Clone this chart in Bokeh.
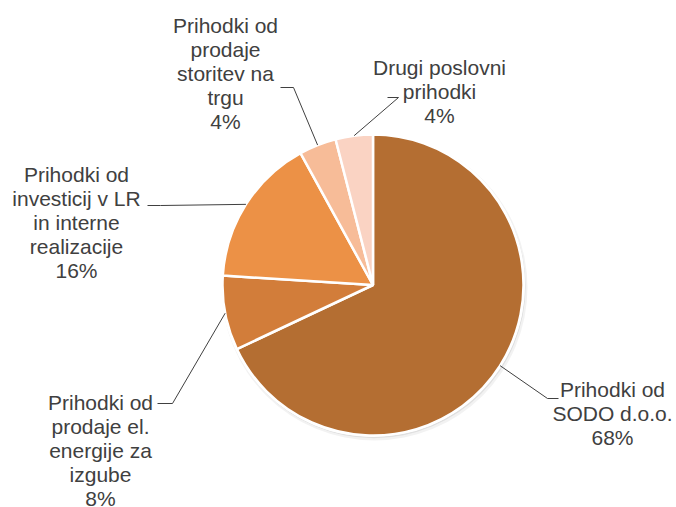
import math
from bokeh.plotting import figure
from bokeh.models import Range1d, ColumnDataSource
from bokeh.core.properties import value
from bokeh.embed import file_html
from bokeh.resources import INLINE

# ---- data ----
categories = [
    "Prihodki od SODO d.o.o.",
    "Prihodki od prodaje el. energije za izgube",
    "Prihodki od investicij v LR in interne realizacije",
    "Prihodki od prodaje storitev na trgu",
    "Drugi poslovni prihodki",
]
label_lines = [
    "Prihodki od\nSODO d.o.o.",
    "Prihodki od\nprodaje el.\nenergije za\nizgube",
    "Prihodki od\ninvesticij v LR\nin interne\nrealizacije",
    "Prihodki od\nprodaje\nstoritev na\ntrgu",
    "Drugi poslovni\nprihodki",
]
values = [68, 8, 16, 4, 4]
colors = ["#B46E32", "#D27D3A", "#EC9146", "#F7BC98", "#FAD3C3"]

# ---- layout (page pixel coordinates) ----
W, H = 676, 507
def X(ix):
    return ix
def Y(iy):
    return H - iy

cx, cy, R = X(372.5), Y(284.5), 150.5
# label anchor: centre x, first-line top y (image coords)
label_pos = [(612, 377), (100, 390), (76, 162), (225, 13), (439, 55)]
# leader elbow and end (image coords)
elbows = [(547, 398), (172, 403), (160, 205), (293, 87), (398, 97)]
ends = [(558, 398), (157, 403), (147, 205), (280, 87), (387, 97)]

total = float(sum(values))
starts, stops, mids = [], [], []
cum = 0.0
for v in values:
    a0 = math.pi / 2 - 2 * math.pi * cum / total
    cum += v
    a1 = math.pi / 2 - 2 * math.pi * cum / total
    starts.append(a0)
    stops.append(a1)
    mids.append((a0 + a1) / 2)

src = ColumnDataSource(dict(start=starts, end=stops, color=colors, cat=categories))

p = figure(width=W, height=H, output_backend="svg", toolbar_location=None,
           x_range=Range1d(0, W), y_range=Range1d(0, H), min_border=0)
p.axis.visible = False
p.grid.visible = False
p.outline_line_color = None
p.background_fill_color = "white"

# soft shadow
for off, r_add, a in [(2.5, 2.5, 0.05), (1.5, 1.2, 0.08)]:
    p.circle(x=cx + off * 0.6, y=cy - off, radius=R + r_add, fill_color="#000000",
             fill_alpha=a, line_color=None)
p.circle(x=cx, y=cy, radius=R + 1.5, fill_color="white", line_color=None)

p.wedge(x=cx, y=cy, radius=R, start_angle="start", end_angle="end", direction="clock",
        fill_color="color", line_color="white", line_width=2.5, source=src)

# leader lines
xs, ys = [], []
for m, (ex, ey), (tx, ty) in zip(mids, elbows, ends):
    sx = cx + R * math.cos(m)
    sy = cy + R * math.sin(m)
    xs.append([sx, X(ex), X(tx)])
    ys.append([sy, Y(ey), Y(ty)])
p.multi_line(xs=xs, ys=ys, line_color="#404040", line_width=1)

texts = [f"{l}\n{v}%" for l, v in zip(label_lines, values)]
p.text(x=[X(a) for a, b in label_pos], y=[Y(b) for a, b in label_pos], text=texts,
       text_font=value("Liberation Sans"), text_font_size="21px", text_color="#404040",
       text_align="center", text_baseline="top", text_line_height=1.05)

open("out.html", "w").write(file_html(p, INLINE))
